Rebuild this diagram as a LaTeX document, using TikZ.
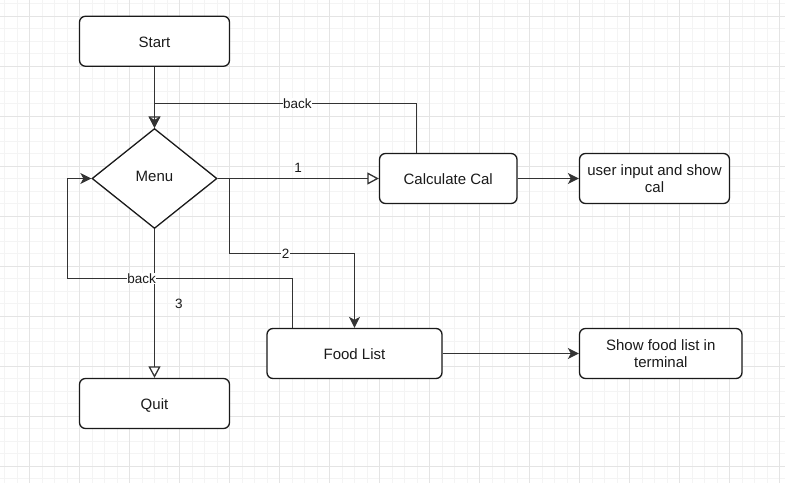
\documentclass[tikz,border=0pt]{standalone}
\usepackage{fontspec}
\setmainfont{Liberation Sans}
\usetikzlibrary{arrows.meta,shapes.geometric}
\definecolor{gmajor}{HTML}{E4E4E4}
\definecolor{gminor}{HTML}{F4F4F4}
\definecolor{ink}{HTML}{1A1A1A}
\definecolor{edge}{HTML}{333333}
\tikzset{
  box/.style={draw=ink, line width=1.3pt, rounded corners=6pt, fill=white, inner sep=0pt,
    align=center, font=\fontsize{15}{17}\selectfont, text=ink},
  onebox/.style={box, text height=12.7pt, text depth=0pt},
  dia/.style={diamond, draw=ink, line width=1.3pt, fill=white, inner sep=0pt, aspect=1.25,
    minimum width=125pt, minimum height=100pt, font=\fontsize{15}{17}\selectfont, text=ink,
    text height=6.7pt, text depth=0pt},
  conn/.style={draw=edge, line width=1.3pt},
  filledtip/.style={-{Stealth[length=11pt,width=11pt,inset=3pt]}},
  opentip/.style={-{Triangle[open,length=11.5pt,width=12pt,fill=white]}},
  lbl/.style={fill=white, inner sep=0.5pt, font=\fontsize{13.5}{15}\selectfont, text=ink},
  lblnf/.style={inner sep=0.5pt, font=\fontsize{13.5}{15}\selectfont, text=ink},
  minorline/.style={draw=gminor, line width=0.6pt},
  majorline/.style={draw=gmajor, line width=0.8pt}
}
\begin{document}
\begin{tikzpicture}[x=1pt,y=-1pt]
\useasboundingbox (0,0) rectangle (785,483);
\fill[white] (0,0) rectangle (785,483);
% grid
\foreach \i in {0,...,62} {\draw[minorline] ({4.5+12.5*\i},0) -- ({4.5+12.5*\i},483);}
\foreach \i in {0,...,38} {\draw[minorline] (0,{3.5+12.5*\i}) -- (785,{3.5+12.5*\i});}
\foreach \i in {0,...,15} {\draw[majorline] ({29.5+50*\i},0) -- ({29.5+50*\i},483);}
\foreach \i in {0,...,9} {\draw[majorline] (0,{16+50*\i}) -- (785,{16+50*\i});}
% nodes
\node[onebox, minimum width=150pt, minimum height=50pt] (start) at (154.5,41.25) {Start};
\node[dia] (menu) at (154.5,178.5) {Menu};
\node[onebox, minimum width=137.5pt, minimum height=50pt] (calc) at (448.25,178.5) {Calculate Cal};
\node[box, minimum width=150pt, minimum height=50pt] (userin) at (654.5,178.5) {user input and show\\cal};
\node[onebox, minimum width=175pt, minimum height=50pt] (food) at (354.5,353.5) {Food List};
\node[box, minimum width=162.5pt, minimum height=50pt] (showfood) at (660.75,353.5) {Show food list in\\terminal};
\node[onebox, minimum width=150pt, minimum height=50pt] (quit) at (154.5,403.5) {Quit};
% bend coordinates
\coordinate (b1) at (416.5,103.5);
\coordinate (b2) at (154.5,103.5);
\coordinate (c2a) at (229.5,178.5);
\coordinate (c2b) at (229.5,253.5);
\coordinate (c2c) at (354.5,253.5);
\coordinate (d1) at (292.5,278.5);
\coordinate (d2) at (67.5,278.5);
\coordinate (d3) at (67.5,178.5);
% connectors
\draw[conn, opentip] (start.south) -- (menu.north);
\draw[conn, filledtip] (calc.north -| b1) -- (b1) -- node[lbl, pos=0.455]{back} (b2) -- (menu.north);
\draw[conn, opentip] (menu.east) -- node[lblnf, above=5pt, pos=0.5]{1} (calc.west);
\draw[conn, filledtip] (menu.east) -- (c2a) -- (c2b) -- node[lbl, pos=0.45]{2} (c2c) -- (food.north);
\draw[conn, opentip] (menu.south) -- node[lblnf, pos=0.5, xshift=24.5pt]{3} (quit.north);
\draw[conn, filledtip] (food.north -| d1) -- (d1) -- node[lbl, pos=0.671]{back} (d2) -- (d3) -- (menu.west);
\draw[conn, filledtip] (calc.east) -- (userin.west);
\draw[conn, filledtip] (food.east) -- (showfood.west);
\end{tikzpicture}
\end{document}
